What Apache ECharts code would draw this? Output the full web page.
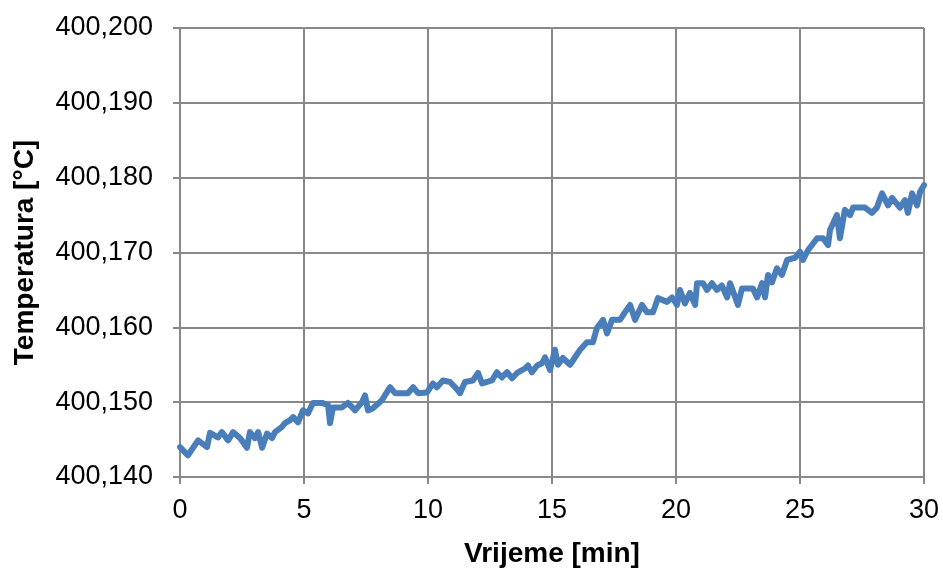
<!DOCTYPE html>
<html>
<head>
<meta charset="utf-8">
<script src="https://cdn.jsdelivr.net/npm/echarts@6/dist/echarts.min.js"></script>
<style>
  html, body { margin: 0; padding: 0; background: #fff; }
  #chart { width: 943px; height: 570px; }
</style>
</head>
<body>
<div id="chart"></div>
<script>
  // vrijeme [min]
  var times = [0.00, 0.32, 0.73, 1.09, 1.21, 1.53, 1.69, 1.94, 2.14, 2.42, 2.70, 2.82, 3.02, 3.15, 3.31, 3.51, 3.71, 3.83,
    4.11, 4.23, 4.44, 4.56, 4.76, 4.96, 5.16, 5.36, 5.73, 5.97, 6.05, 6.17, 6.53, 6.77, 7.06, 7.34, 7.46, 7.58, 7.78,
    8.15, 8.47, 8.67, 9.19, 9.40, 9.60, 9.96, 10.20, 10.36, 10.60, 10.89, 11.09, 11.29, 11.49, 11.81, 12.02, 12.18,
    12.58, 12.78, 12.98, 13.19, 13.39, 13.59, 13.91, 14.03, 14.19, 14.40, 14.60, 14.72, 14.92, 15.12, 15.24, 15.44,
    15.73, 15.93, 16.13, 16.41, 16.65, 16.81, 17.06, 17.22, 17.42, 17.74, 17.94, 18.15, 18.35, 18.63, 18.83, 19.07,
    19.27, 19.64, 19.84, 20.04, 20.16, 20.36, 20.56, 20.77, 20.85, 21.09, 21.25, 21.45, 21.65, 21.85, 22.06, 22.18,
    22.50, 22.66, 23.10, 23.27, 23.47, 23.59, 23.71, 23.87, 24.07, 24.27, 24.48, 24.80, 25.00, 25.12, 25.32, 25.69,
    25.93, 26.13, 26.21, 26.49, 26.61, 26.81, 27.02, 27.14, 27.62, 27.90, 28.10, 28.31, 28.55, 28.71, 29.03, 29.23,
    29.35, 29.52, 29.72, 29.84, 30.00];
  // temperatura [°C]
  var temps = [400.1440, 400.1429, 400.1449, 400.1440, 400.1459, 400.1453, 400.1460, 400.1449, 400.1460, 400.1452,
    400.1439, 400.1460, 400.1452, 400.1460, 400.1439, 400.1458, 400.1452, 400.1460, 400.1467, 400.1472, 400.1476,
    400.1480, 400.1473, 400.1489, 400.1485, 400.1499, 400.1499, 400.1496, 400.1472, 400.1493, 400.1493, 400.1499,
    400.1489, 400.1500, 400.1509, 400.1489, 400.1492, 400.1503, 400.1520, 400.1512, 400.1512, 400.1520, 400.1512,
    400.1513, 400.1525, 400.1520, 400.1529, 400.1527, 400.1520, 400.1512, 400.1527, 400.1529, 400.1539, 400.1525,
    400.1529, 400.1540, 400.1533, 400.1540, 400.1532, 400.1539, 400.1545, 400.1549, 400.1540, 400.1549, 400.1552,
    400.1560, 400.1543, 400.1570, 400.1550, 400.1559, 400.1550, 400.1560, 400.1570, 400.1580, 400.1580, 400.1599,
    400.1610, 400.1592, 400.1610, 400.1610, 400.1620, 400.1630, 400.1610, 400.1630, 400.1620, 400.1620, 400.1639,
    400.1634, 400.1640, 400.1630, 400.1650, 400.1632, 400.1646, 400.1630, 400.1659, 400.1659, 400.1650, 400.1659,
    400.1650, 400.1656, 400.1640, 400.1659, 400.1630, 400.1652, 400.1652, 400.1640, 400.1659, 400.1640, 400.1670,
    400.1660, 400.1679, 400.1670, 400.1690, 400.1693, 400.1701, 400.1690, 400.1703, 400.1719, 400.1719, 400.1710,
    400.1730, 400.1750, 400.1719, 400.1757, 400.1750, 400.1760, 400.1760, 400.1753, 400.1760, 400.1779, 400.1763,
    400.1773, 400.1760, 400.1770, 400.1753, 400.1779, 400.1763, 400.1781, 400.1790];
  var xTitle = 'Vrijeme [min]';
  var yTitle = 'Temperatura [°C]';

  var points = times.map(function (t, i) { return [t, temps[i]]; });

  var myChart = echarts.init(document.getElementById('chart'));
  var font = 'Liberation Sans, Arial, sans-serif';
  var gridColor = '#898989';

  myChart.setOption({
    animation: false,
    grid: {
      left: 180,
      right: 19,
      top: 28,
      bottom: 93,
      outerBoundsMode: 'none'
    },
    xAxis: {
      type: 'value',
      min: 0,
      max: 30,
      interval: 5,
      name: xTitle,
      nameLocation: 'middle',
      nameGap: 63,
      nameTextStyle: { fontFamily: font, fontSize: 28, fontWeight: 'bold', color: '#000' },
      axisLine: { show: true, lineStyle: { color: gridColor, width: 2 } },
      axisTick: { show: true, inside: false, length: 7, lineStyle: { color: gridColor, width: 2 } },
      axisLabel: { fontFamily: font, fontSize: 27, color: '#000', margin: 20 },
      splitLine: { show: true, lineStyle: { color: gridColor, width: 2 } }
    },
    yAxis: {
      type: 'value',
      min: 400.14,
      max: 400.2,
      interval: 0.01,
      name: yTitle,
      nameLocation: 'middle',
      nameGap: 141,
      nameTextStyle: { fontFamily: font, fontSize: 28, fontWeight: 'bold', color: '#000' },
      axisLine: { show: true, lineStyle: { color: gridColor, width: 2 } },
      axisTick: { show: true, inside: false, length: 7, lineStyle: { color: gridColor, width: 2 } },
      axisLabel: {
        fontFamily: font, fontSize: 27, color: '#000', margin: 27,
        formatter: function (v) { return v.toFixed(3).replace('.', ','); }
      },
      splitLine: { show: true, lineStyle: { color: gridColor, width: 2 } }
    },
    series: [{
      type: 'line',
      data: points,
      symbol: 'none',
      lineStyle: { color: '#4a7ebb', width: 6, join: 'round', cap: 'round' }
    }]
  });
</script>
</body>
</html>
